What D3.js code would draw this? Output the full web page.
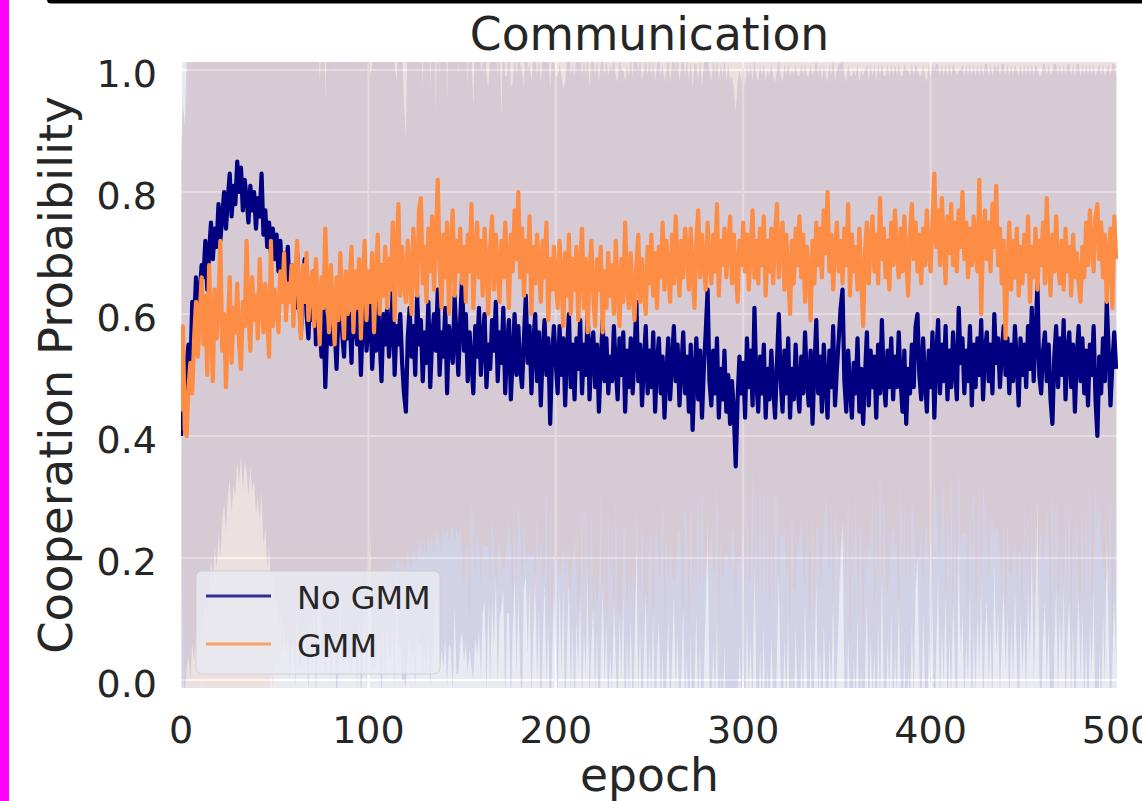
<!DOCTYPE html>
<html><head><meta charset="utf-8">
<script src="https://cdn.jsdelivr.net/npm/d3@7/dist/d3.min.js"></script>
<style>
html,body{margin:0;padding:0;background:#fff;}
svg{display:block;font-family:"DejaVu Sans",sans-serif;}
</style>
</head><body>
<svg id="chart" width="1142" height="801"></svg>
<script>
// ---------- data ----------
const seriesNames = ["No GMM", "GMM"];
const xTicks = [0, 100, 200, 300, 400, 500];
const yTicks = [0.0, 0.2, 0.4, 0.6, 0.8, 1.0];
const yTickLabels = ["0.0", "0.2", "0.4", "0.6", "0.8", "1.0"];

// mean cooperation probability per epoch (No GMM)
const noGmmMean = [
.40,.47,.44,.52,.55,.50,.62,.58,.66,.60,
.63,.68,.66,.72,.64,.70,.75,.69,.74,.71,
.78,.72,.76,.80,.74,.79,.83,.76,.81,.78,
.85,.80,.84,.77,.82,.79,.75,.81,.77,.80,
.74,.79,.76,.83,.73,.77,.71,.75,.70,.74,
.69,.73,.67,.72,.65,.70,.66,.71,.62,.68,
.66,.61,.70,.63,.57,.65,.69,.60,.56,.64,
.59,.67,.55,.62,.58,.53,.61,.48,.57,.64,
.55,.62,.58,.51,.60,.66,.57,.53,.62,.56,
.60,.52,.64,.58,.55,.61,.50,.59,.63,.54,
.58,.62,.51,.57,.54,.63,.56,.49,.60,.55,
.61,.53,.57,.64,.50,.58,.55,.60,.52,.47,
.44,.56,.61,.53,.58,.50,.63,.55,.59,.49,
.57,.52,.62,.48,.56,.60,.54,.64,.50,.57,
.53,.61,.47,.58,.55,.52,.63,.56,.50,.59,
.66,.54,.60,.49,.57,.52,.47,.58,.53,.61,
.50,.56,.60,.48,.55,.51,.59,.54,.62,.49,
.57,.52,.61,.47,.55,.59,.46,.53,.60,.50,
.58,.51,.48,.56,.63,.52,.58,.47,.55,.60,
.49,.57,.45,.54,.59,.50,.56,.42,.53,.58,
.52,.47,.58,.50,.56,.45,.54,.60,.48,.55,
.46,.56,.51,.59,.47,.55,.50,.61,.46,.54,
.57,.48,.55,.44,.52,.59,.49,.56,.47,.53,
.49,.58,.51,.46,.56,.50,.57,.44,.54,.48,
.56,.47,.53,.62,.49,.55,.45,.52,.58,.47,
.54,.48,.57,.44,.52,.56,.47,.53,.43,.50,
.56,.46,.52,.58,.49,.55,.45,.51,.57,.47,
.53,.44,.55,.41,.50,.56,.46,.54,.43,.51,
.57,.64,.49,.45,.54,.47,.56,.43,.51,.46,
.54,.44,.50,.42,.49,.44,.35,.46,.53,.47,
.52,.43,.56,.48,.54,.45,.61,.49,.44,.53,
.47,.55,.43,.51,.46,.54,.48,.43,.52,.60,
.49,.44,.54,.47,.56,.43,.51,.46,.55,.48,
.44,.53,.47,.57,.49,.45,.54,.42,.51,.59,
.47,.53,.44,.55,.49,.43,.54,.48,.58,.45,
.51,.56,.61,.64,.49,.44,.54,.48,.43,.52,
.47,.56,.44,.51,.42,.50,.57,.45,.54,.48,
.53,.43,.55,.47,.59,.49,.45,.54,.48,.56,
.46,.53,.48,.57,.49,.44,.54,.42,.51,.47,
.55,.48,.58,.60,.50,.46,.56,.49,.44,.54,
.48,.57,.43,.53,.59,.47,.55,.49,.58,.46,
.54,.48,.57,.51,.46,.61,.52,.56,.47,.54,
.49,.58,.45,.55,.48,.56,.50,.59,.46,.54,
.57,.49,.55,.47,.60,.52,.56,.48,.54,.58,
.50,.56,.47,.55,.49,.58,.52,.45,.56,.50,
.55,.48,.58,.51,.61,.49,.56,.65,.50,.47,
.54,.57,.49,.55,.46,.42,.53,.58,.48,.56,
.50,.59,.46,.54,.57,.48,.55,.44,.53,.58,
.49,.56,.47,.54,.45,.55,.50,.58,.46,.40,
.53,.47,.56,.49,.62,.54,.45,.52,.57,.51
];

// mean cooperation probability per epoch (GMM)
const gmmMean = [
.44,.58,.41,.40,.48,.52,.47,.56,.62,.53,
.60,.66,.55,.63,.50,.68,.58,.49,.64,.56,
.62,.72,.54,.60,.48,.58,.66,.52,.61,.57,
.65,.55,.51,.62,.58,.72,.60,.54,.66,.59,
.63,.56,.69,.61,.57,.65,.60,.53,.72,.58,
.64,.61,.57,.67,.62,.70,.59,.65,.62,.68,
.58,.67,.72,.61,.56,.68,.62,.70,.59,.65,
.67,.58,.69,.62,.55,.66,.61,.74,.63,.57,
.68,.61,.55,.66,.59,.70,.62,.56,.67,.60,
.65,.71,.57,.67,.61,.69,.56,.66,.72,.59,
.67,.62,.70,.57,.66,.73,.60,.68,.63,.71,
.61,.69,.64,.75,.59,.70,.78,.63,.71,.65,
.62,.72,.66,.60,.74,.67,.63,.77,.79,.65,
.71,.62,.74,.67,.76,.64,.72,.82,.68,.61,
.73,.66,.75,.60,.71,.77,.63,.72,.67,.74,
.65,.71,.62,.73,.67,.78,.61,.70,.75,.66,
.72,.63,.74,.68,.60,.71,.76,.64,.73,.67,
.62,.72,.66,.75,.68,.61,.73,.67,.77,.69,
.80,.66,.74,.63,.72,.67,.76,.60,.71,.65,
.73,.68,.62,.72,.66,.75,.59,.69,.64,.71,
.65,.61,.72,.66,.58,.70,.63,.73,.60,.69,
.64,.71,.59,.68,.74,.61,.69,.57,.67,.72,
.63,.58,.69,.64,.71,.57,.67,.61,.70,.63,
.68,.60,.72,.64,.58,.69,.62,.75,.65,.61,
.70,.63,.59,.68,.73,.62,.69,.64,.60,.71,
.65,.73,.63,.70,.61,.71,.66,.75,.64,.72,
.67,.62,.73,.65,.76,.68,.63,.72,.66,.74,
.71,.64,.74,.67,.61,.72,.77,.66,.73,.68,
.64,.75,.69,.65,.73,.67,.78,.63,.72,.68,
.74,.66,.71,.76,.65,.73,.67,.62,.72,.68,
.75,.67,.73,.64,.71,.77,.66,.72,.65,.74,
.68,.76,.63,.72,.67,.74,.65,.73,.78,.66,
.71,.75,.64,.73,.67,.60,.72,.65,.74,.68,
.76,.66,.73,.62,.71,.67,.59,.72,.65,.75,
.68,.74,.66,.77,.70,.80,.67,.73,.64,.71,
.75,.67,.72,.65,.74,.68,.78,.63,.73,.67,
.71,.64,.74,.66,.58,.70,.75,.65,.72,.76,
.67,.73,.65,.79,.69,.74,.66,.72,.64,.75,
.68,.77,.70,.66,.74,.67,.76,.69,.63,.73,
.78,.69,.75,.67,.73,.65,.74,.68,.77,.70,
.67,.75,.83,.71,.77,.68,.79,.72,.65,.76,
.70,.78,.68,.75,.67,.77,.71,.80,.69,.75,
.66,.74,.68,.76,.70,.67,.82,.60,.73,.77,
.69,.75,.67,.78,.71,.81,.68,.74,.65,.72,
.56,.67,.75,.64,.72,.66,.74,.63,.71,.65,
.73,.67,.76,.62,.71,.66,.74,.64,.72,.68,
.75,.65,.79,.69,.63,.73,.67,.76,.68,.65,
.72,.64,.74,.67,.71,.63,.73,.66,.70,.65,
.62,.71,.66,.75,.68,.77,.71,.67,.76,.78,
.69,.75,.66,.73,.62,.70,.74,.61,.76,.69
];

// spread (std) per epoch (No GMM)
const noGmmStd = [
.45,.47,.47,.50,.51,.50,.56,.55,.58,.55,
.57,.58,.58,.58,.54,.54,.55,.54,.52,.53,
.54,.52,.50,.51,.50,.49,.50,.49,.49,.48,
.49,.48,.47,.46,.46,.45,.45,.46,.46,.47,
.47,.49,.50,.52,.51,.52,.53,.53,.54,.56,
.57,.59,.59,.61,.60,.61,.62,.63,.62,.63,
.60,.62,.58,.61,.55,.59,.62,.56,.58,.53,
.57,.54,.59,.52,.40,.51,.55,.47,.53,.57,
.55,.57,.51,.55,.58,.52,.54,.50,.56,.53,
.55,.51,.58,.53,.56,.50,.54,.57,.52,.55,
.52,.37,.50,.54,.52,.57,.49,.53,.51,.55,
.52,.49,.54,.56,.51,.40,.50,.54,.52,.47,
.45,.52,.54,.50,.53,.51,.55,.50,.53,.48,
.53,.51,.55,.49,.52,.56,.39,.53,.49,.52,
.51,.54,.48,.52,.50,.54,.51,.55,.49,.53,
.58,.51,.54,.48,.52,.50,.47,.51,.49,.53,
.50,.45,.47,.51,.42,.52,.46,.49,.44,.50,
.47,.40,.46,.52,.44,.48,.51,.45,.43,.49,
.44,.50,.52,.41,.46,.48,.43,.51,.47,.42,
.50,.45,.53,.48,.43,.51,.46,.55,.49,.44,
.47,.52,.43,.49,.41,.53,.48,.44,.51,.46,
.53,.46,.50,.44,.52,.47,.49,.42,.51,.48,
.45,.51,.47,.54,.49,.43,.50,.46,.52,.48,
.51,.44,.48,.52,.46,.50,.43,.54,.47,.51,
.46,.52,.49,.40,.51,.47,.53,.48,.44,.52,
.48,.51,.45,.54,.49,.46,.52,.48,.55,.50,
.46,.52,.49,.44,.51,.47,.53,.50,.45,.52,
.49,.54,.47,.56,.51,.45,.52,.48,.54,.50,
.45,.38,.51,.53,.48,.52,.46,.55,.50,.53,
.48,.54,.51,.56,.50,.53,.58,.52,.47,.51,
.49,.54,.45,.51,.47,.53,.41,.50,.54,.48,
.52,.46,.55,.49,.53,.47,.51,.55,.48,.42,
.50,.54,.47,.52,.45,.56,.49,.53,.46,.51,
.55,.48,.52,.44,.50,.54,.47,.57,.49,.43,
.52,.48,.54,.46,.50,.55,.47,.51,.44,.53,
.49,.45,.40,.38,.50,.54,.47,.51,.56,.48,
.52,.45,.54,.49,.57,.50,.44,.53,.47,.51,
.48,.55,.46,.52,.42,.50,.54,.47,.51,.45,
.53,.48,.51,.44,.50,.55,.47,.58,.49,.52,
.46,.51,.43,.40,.49,.53,.45,.50,.54,.47,
.51,.44,.57,.48,.42,.52,.46,.50,.43,.53,
.47,.51,.44,.49,.53,.39,.48,.45,.52,.47,
.50,.43,.54,.46,.51,.45,.49,.42,.53,.47,
.44,.50,.46,.52,.41,.48,.45,.51,.47,.43,
.49,.45,.52,.46,.50,.43,.48,.54,.45,.49,
.46,.51,.43,.48,.40,.50,.45,.35,.49,.52,
.47,.44,.50,.46,.53,.58,.48,.43,.51,.45,
.49,.42,.53,.47,.44,.51,.46,.55,.48,.43,
.50,.45,.52,.47,.54,.46,.49,.43,.53,.60,
.48,.52,.45,.50,.38,.47,.54,.49,.44,.48
];

// spread (std) per epoch (GMM)
const gmmStd = [
.45,.38,.50,.52,.55,.58,.60,.60,.62,.62,
.64,.66,.63,.67,.65,.70,.66,.64,.68,.65,
.67,.72,.64,.66,.62,.65,.69,.63,.66,.64,
.68,.63,.60,.66,.64,.73,.66,.62,.69,.64,
.67,.62,.70,.64,.61,.66,.62,.56,.70,.60,
.62,.58,.55,.63,.57,.64,.54,.59,.55,.60,
.52,.58,.62,.54,.50,.57,.52,.58,.50,.53,
.55,.49,.56,.51,.46,.53,.49,.59,.50,.46,
.53,.48,.43,.51,.46,.55,.48,.44,.51,.47,
.50,.55,.45,.51,.47,.53,.42,.50,.55,.46,
.50,.47,.52,.42,.49,.55,.45,.50,.47,.53,
.45,.50,.47,.55,.42,.50,.58,.45,.51,.47,
.44,.51,.47,.42,.52,.47,.44,.54,.56,.45,
.48,.42,.50,.45,.52,.43,.48,.58,.45,.40,
.48,.43,.50,.38,.46,.52,.41,.47,.44,.49,
.45,.56,.40,.51,.59,.48,.37,.54,.50,.43,
.57,.41,.52,.46,.38,.55,.49,.42,.60,.47,
.39,.53,.48,.56,.44,.35,.51,.58,.47,.54,
.50,.42,.59,.37,.53,.46,.55,.40,.49,.57,
.44,.52,.38,.56,.48,.41,.54,.45,.59,.43,
.51,.39,.55,.47,.36,.53,.42,.58,.45,.50,
.40,.54,.46,.59,.43,.49,.37,.52,.56,.44,
.53,.41,.57,.48,.39,.51,.45,.60,.42,.49,
.46,.55,.40,.52,.47,.59,.38,.50,.54,.43,
.57,.44,.51,.39,.56,.48,.42,.53,.45,.60,
.41,.50,.58,.46,.37,.54,.49,.43,.56,.47,
.52,.40,.55,.49,.59,.44,.38,.51,.57,.45,
.48,.56,.42,.53,.40,.58,.46,.51,.39,.54,
.43,.59,.47,.41,.55,.50,.44,.57,.48,.52,
.54,.45,.51,.58,.40,.49,.56,.42,.53,.47,
.50,.57,.43,.48,.54,.41,.59,.46,.52,.39,
.56,.44,.51,.40,.58,.47,.53,.42,.49,.55,
.45,.52,.39,.57,.48,.54,.41,.50,.59,.46,
.53,.40,.56,.47,.43,.58,.49,.44,.55,.51,
.42,.59,.48,.53,.39,.56,.50,.45,.57,.43,
.52,.46,.58,.41,.50,.55,.44,.59,.47,.53,
.40,.56,.49,.43,.54,.48,.57,.42,.51,.45,
.59,.47,.53,.40,.56,.44,.50,.58,.46,.52,
.43,.55,.48,.60,.41,.51,.46,.54,.39,.57,
.49,.42,.56,.47,.53,.40,.59,.45,.51,.54,
.44,.58,.50,.41,.55,.48,.53,.39,.57,.46,
.52,.43,.59,.47,.54,.40,.50,.56,.45,.51,
.57,.44,.49,.42,.58,.53,.47,.55,.40,.50,
.46,.59,.41,.52,.48,.56,.43,.54,.49,.45,
.51,.40,.57,.47,.53,.44,.59,.42,.50,.55,
.43,.54,.48,.58,.41,.52,.46,.57,.49,.44,
.56,.42,.51,.47,.59,.40,.53,.45,.55,.48,
.50,.57,.44,.53,.39,.58,.47,.52,.42,.56,
.48,.41,.55,.46,.52,.43,.59,.49,.44,.54,
.40,.53,.47,.57,.45,.51,.42,.58,.48,.56
];

const seriesMeans = [noGmmMean, gmmMean];
const seriesStds = [noGmmStd, gmmStd];
const seriesColors = ["#000080", "#fd8d45"];

// ---------- layout ----------
const W = 1142, H = 801;
const plotL = 181, plotR = 1118, plotT = 62, plotB = 688;
const ink = "#262626";

const svg = d3.select("#chart");

const x = d3.scaleLinear().domain([0, 500]).range([plotL, plotR]);
const y = d3.scaleLinear().domain([-0.0131, 1.0131]).range([plotB, plotT]);

// screenshot frame artefacts
svg.append("rect").attr("x", 0).attr("y", 0).attr("width", 9).attr("height", H).attr("fill", "#ff00ff");
svg.append("rect").attr("x", 47).attr("y", -6).attr("width", W).attr("height", 9.5).attr("rx", 4).attr("fill", "#000");

// plot background
svg.append("rect").attr("x", plotL).attr("y", plotT)
  .attr("width", plotR - plotL).attr("height", plotB - plotT).attr("fill", "#EAEAF2");

svg.append("defs").append("clipPath").attr("id", "clip")
  .append("rect").attr("x", plotL).attr("y", plotT)
  .attr("width", plotR - plotL).attr("height", plotB - plotT);

// grid
const grid = svg.append("g");
grid.selectAll("line.gx").data(xTicks).join("line")
  .attr("class", "gx")
  .attr("x1", d => x(d)).attr("x2", d => x(d)).attr("y1", plotT).attr("y2", plotB)
  .attr("stroke", "#fff").attr("stroke-width", 2);
grid.selectAll("line.gy").data(yTicks).join("line")
  .attr("class", "gy")
  .attr("x1", plotL).attr("x2", plotR).attr("y1", d => y(d)).attr("y2", d => y(d))
  .attr("stroke", "#fff").attr("stroke-width", 2);

const epochs = noGmmMean.map((_, i) => i);
const g = svg.append("g").attr("clip-path", "url(#clip)");

// bands
seriesMeans.forEach((m, s) => {
  const sd = seriesStds[s];
  const area = d3.area()
    .x(i => x(i))
    .y0(i => y(m[i] - sd[i]))
    .y1(i => y(m[i] + sd[i]));
  g.append("path").datum(epochs).attr("d", area)
    .attr("fill", seriesColors[s]).attr("fill-opacity", 0.1).attr("stroke", "none");
});

// lines
seriesMeans.forEach((m, s) => {
  const line = d3.line().x(i => x(i)).y(i => y(m[i]));
  g.append("path").datum(epochs).attr("d", line)
    .attr("fill", "none").attr("stroke", seriesColors[s])
    .attr("stroke-width", 4.2).attr("stroke-linejoin", "round");
});

// tick labels
svg.append("g").selectAll("text").data(xTicks).join("text")
  .attr("x", d => x(d)).attr("y", 743).attr("text-anchor", "middle")
  .attr("font-size", 38).attr("fill", ink).text(d => d);
svg.append("g").selectAll("text").data(yTicks).join("text")
  .attr("x", 157).attr("y", d => y(d) + 17).attr("text-anchor", "end")
  .attr("font-size", 38).attr("fill", ink).text((d, i) => yTickLabels[i]);

// title & axis labels
svg.append("text").attr("x", (plotL + plotR) / 2).attr("y", 50).attr("text-anchor", "middle")
  .attr("font-size", 45.6).attr("fill", ink).text("Communication");
svg.append("text").attr("x", (plotL + plotR) / 2).attr("y", 791).attr("text-anchor", "middle")
  .attr("font-size", 45.6).attr("fill", ink).text("epoch");
svg.append("text").attr("transform", `translate(72,${(plotT + plotB) / 2}) rotate(-90)`)
  .attr("text-anchor", "middle").attr("font-size", 46.5).attr("fill", ink)
  .text("Cooperation Probaibility");

// legend
const lg = svg.append("g");
lg.append("rect").attr("x", 196).attr("y", 571).attr("width", 244).attr("height", 103).attr("rx", 6)
  .attr("fill", "#EAEAF2").attr("fill-opacity", 0.8).attr("stroke", "#cccccc").attr("stroke-opacity", 0.8);
seriesNames.forEach((name, s) => {
  const yy = 596 + s * 48;
  lg.append("line").attr("x1", 206).attr("x2", 271).attr("y1", yy).attr("y2", yy)
    .attr("stroke", seriesColors[s]).attr("stroke-width", 3).attr("stroke-opacity", 0.8);
  lg.append("text").attr("x", 297).attr("y", yy + 13).attr("font-size", 32).attr("fill", ink).text(name);
});
</script>
</body></html>
